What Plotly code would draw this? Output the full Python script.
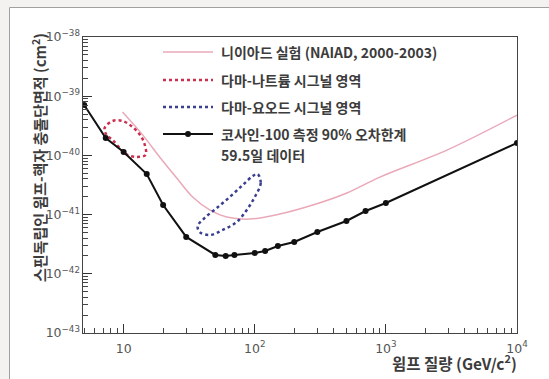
import plotly.graph_objects as go

# COSINE-100 90% C.L. limit (59.5 days)
cosine_mass = [5, 7.3, 10, 15, 20, 30, 50, 60, 70, 100, 120, 150, 200, 300, 500, 700, 1000, 10000]
cosine_xs = [7.1e-40, 1.97e-40, 1.14e-40, 4.85e-41, 1.45e-41, 4.2e-42, 2.08e-42, 2.0e-42, 2.07e-42,
             2.24e-42, 2.43e-42, 2.95e-42, 3.44e-42, 5.08e-42, 7.8e-42, 1.15e-41, 1.57e-41, 1.62e-40]

# NAIAD (2000-2003)
naiad_mass = [9.8, 14.0, 18.8, 25.4, 33.6, 45.3, 61, 91.5, 155, 277, 504, 900, 2920, 10000]
naiad_xs = [5.4e-40, 2.2e-40, 9.4e-41, 4.15e-41, 1.98e-41, 1.2e-41, 9.1e-42, 8.4e-42, 1.02e-41,
            1.45e-41, 2.32e-41, 4.3e-41, 1.23e-40, 4.8e-40]

# DAMA Na signal region (closed contour)
dama_na_mass = [7.16, 8.24, 9.82, 11.7, 13.5, 14.5, 14.7, 12.6, 10.7, 9.66, 8.24, 7.41, 7.16]
dama_na_xs = [2.9e-40, 3.81e-40, 3.81e-40, 3.02e-40, 2.13e-40, 1.5e-40, 1.02e-40, 9.4e-41, 1.02e-40,
              1.23e-40, 1.82e-40, 2.21e-40, 2.9e-40]

# DAMA I signal region (closed contour)
dama_i_mass = [105, 111, 100, 86.9, 72.9, 57.0, 45.3, 38.0, 36.7, 41.5, 51.3, 64.4, 80.9, 96.6, 105]
dama_i_xs = [4.85e-41, 3.42e-41, 1.98e-41, 1.2e-41, 7.5e-42, 5.5e-42, 4.52e-42, 5.08e-42, 6.4e-42,
             8.8e-42, 1.29e-41, 1.98e-41, 3.16e-41, 4.49e-41, 4.85e-41]

legend_labels = ["니이아드 실험 (NAIAD, 2000-2003)", "다마-나트륨 시그널 영역", "다마-요오드 시그널 영역",
                 "코사인-100 측정 90% 오차한계", "59.5일 데이터"]
x_title = "윔프 질량 (GeV/c<sup>2</sup>)"
y_title = "스핀독립인 윔프-핵자 충돌단면적 (cm<sup>2</sup>)"

PINK = "#e9a9b8"
RED = "#cc2f4e"
BLUE = "#3b3f8f"
BLACK = "#111111"
TXT = "#3c3c3c"
FONT = "Noto Sans CJK KR"
BG = "#f3f2f0"

X_RANGE = [0.69, 4]
Y_RANGE = [-43, -38]

fig = go.Figure()
fig.add_trace(go.Scatter(x=naiad_mass, y=naiad_xs, mode="lines", line=dict(color=PINK, width=1.5),
                         line_shape="spline", showlegend=False))
fig.add_trace(go.Scatter(x=dama_na_mass, y=dama_na_xs, mode="lines", line=dict(color=RED, width=2.5, dash="dot"),
                         line_shape="spline", showlegend=False))
fig.add_trace(go.Scatter(x=dama_i_mass, y=dama_i_xs, mode="lines", line=dict(color=BLUE, width=2.5, dash="dot"),
                         line_shape="spline", showlegend=False))
fig.add_trace(go.Scatter(x=cosine_mass, y=cosine_xs, mode="lines+markers", line=dict(color=BLACK, width=2),
                         marker=dict(color=BLACK, size=6), showlegend=False))

L, R, T, B = 83, 32, 37, 46
W, H = 549, 379
pw, ph = W - L - R, H - T - B

def px(x):
    return (x - L) / pw

def py(y):
    return (H - B - y) / ph

shapes = [
    # outer page strips and frame edge (outside plot area)
    dict(type="rect", xref="paper", yref="paper", x0=px(-5), x1=px(W + 5), y0=py(7.5), y1=py(-5),
         fillcolor=BG, line=dict(width=0), layer="below"),
    dict(type="rect", xref="paper", yref="paper", x0=px(-5), x1=px(9.5), y0=py(H + 5), y1=py(-5),
         fillcolor=BG, line=dict(width=0), layer="below"),
    dict(type="line", xref="paper", yref="paper", x0=px(9.5), x1=px(W + 5), y0=py(7.5), y1=py(7.5),
         line=dict(color="#a0a0a0", width=1), layer="below"),
    dict(type="line", xref="paper", yref="paper", x0=px(9.5), x1=px(9.5), y0=py(7.5), y1=py(H + 5),
         line=dict(color="#a0a0a0", width=1), layer="below"),
]
rows = [52, 80, 107, 134]
styles = [dict(color=PINK, width=1.5), dict(color=RED, width=2.5, dash="dot"),
          dict(color=BLUE, width=2.5, dash="dot"), dict(color=BLACK, width=2)]
for r, st in zip(rows, styles):
    shapes.append(dict(type="line", xref="paper", yref="paper", x0=px(163), x1=px(213), y0=py(r), y1=py(r), line=st))
shapes.append(dict(type="circle", xref="paper", yref="paper", x0=px(185), x1=px(191), y0=py(137), y1=py(131),
                   fillcolor=BLACK, line=dict(color=BLACK, width=0)))

annotations = []
for r, txt in zip(rows + [155], legend_labels):
    annotations.append(dict(xref="paper", yref="paper", x=px(219), y=py(r), text=txt, showarrow=False,
                            xanchor="left", yanchor="middle",
                            font=dict(family=FONT, size=14, color=TXT, weight="bold")))
annotations.append(dict(xref="paper", yref="paper", x=px(519), y=py(362), text=x_title, showarrow=False,
                        xanchor="right", yanchor="middle",
                        font=dict(family=FONT, size=15.5, color=TXT, weight="bold")))
annotations.append(dict(xref="paper", yref="paper", x=px(39), y=py(158), text=y_title, showarrow=False,
                        textangle=-90, xanchor="center", yanchor="middle",
                        font=dict(family=FONT, size=15, color=TXT, weight="bold")))

axis_common = dict(type="log", showgrid=False, zeroline=False, showline=True, linecolor="#444", linewidth=1,
                   mirror=True, ticks="inside", ticklen=9, tickcolor="#333", tickwidth=1.2, dtick=1,
                   exponentformat="power", tickfont=dict(family="DejaVu Sans", size=10, color="#555"),
                   minor=dict(ticks="inside", ticklen=5, tickcolor="#444", tickwidth=1, showgrid=False))

fig.update_layout(
    width=W, height=H,
    margin=dict(l=L, r=R, t=T, b=B),
    paper_bgcolor="white", plot_bgcolor="white",
    xaxis=dict(axis_common, range=X_RANGE, ticklabelstandoff=4),
    yaxis=dict(axis_common, range=Y_RANGE),
    shapes=shapes, annotations=annotations, showlegend=False,
)
fig.write_html("out.html", config={"displayModeBar": False},
               post_script="document.body.style.margin='0';document.body.style.overflow='hidden';")
